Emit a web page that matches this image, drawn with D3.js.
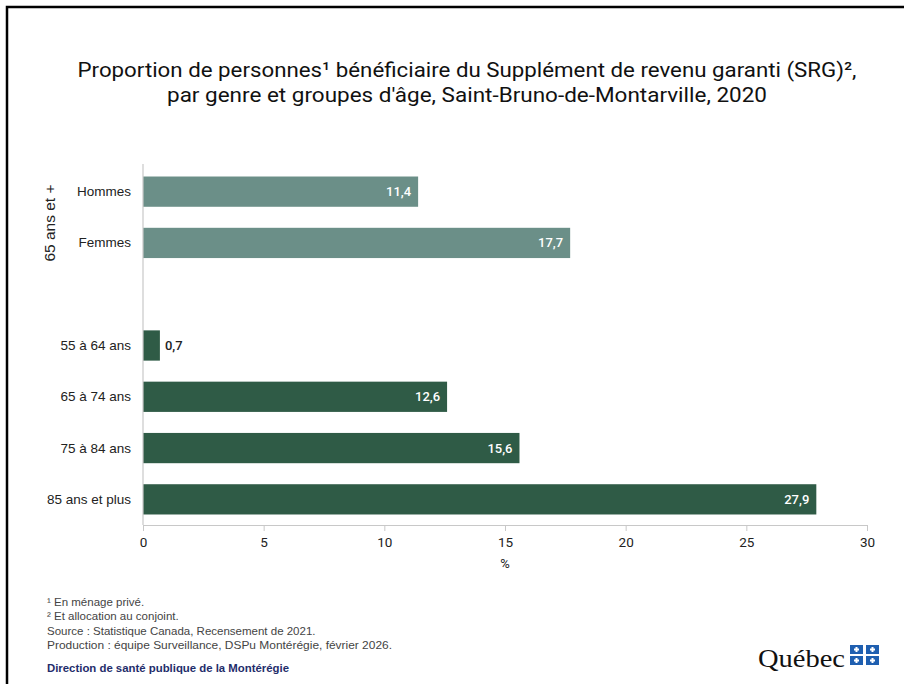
<!DOCTYPE html>
<html><head><meta charset="utf-8">
<script src="https://cdn.jsdelivr.net/npm/d3@7"></script>
<style>body{margin:0;background:#fff}svg{display:block}</style>
</head><body>
<script>
const categories = ["Hommes","Femmes","","55 à 64 ans","65 à 74 ans","75 à 84 ans","85 ans et plus"];
const values = [11.4, 17.7, null, 0.7, 12.6, 15.6, 27.9];
const groupIdx = [0, 0, null, 1, 1, 1, 1];
const xTicks = [0,5,10,15,20,25,30];
const titleLines = ["Proportion de personnes¹ bénéficiaire du Supplément de revenu garanti (SRG)²,",
                    "par genre et groupes d'âge, Saint-Bruno-de-Montarville, 2020"];
const notes = ["¹ En ménage privé.","² Et allocation au conjoint.","Source : Statistique Canada, Recensement de 2021.","Production : équipe Surveillance, DSPu Montérégie, février 2026."];

const W=904,H=684;
const svg=d3.select("body").append("svg").attr("width",W).attr("height",H);
// frame
svg.append("path").attr("d","M7,684 V7 H904").attr("fill","none").attr("stroke","#000").attr("stroke-width",2.5);

const x=d3.scaleLinear().domain([0,30]).range([143,867]);
const y=d3.scaleBand().domain(d3.range(categories.length)).range([166,525]).paddingInner(0.41).paddingOuter(0.205);
const colors=["#6b8f88","#2f5b46"];

// title
svg.append("g").selectAll("text").data(titleLines).join("text")
 .attr("x",467).attr("y",(d,i)=>77+i*25).attr("text-anchor","middle")
 .attr("font-family","Roboto, sans-serif").attr("font-size",20.5).attr("fill","#111")
 .attr("textLength",(d,i)=>i===0?779:600).attr("lengthAdjust","spacingAndGlyphs")
 .text(d=>d);

// bars
const data=categories.map((c,i)=>({c,v:values[i],g:groupIdx[i],i})).filter(d=>d.v!==null);
svg.append("g").selectAll("rect").data(data).join("rect")
 .attr("x",x(0)).attr("y",d=>y(d.i)).attr("width",d=>x(d.v)-x(0)).attr("height",y.bandwidth())
 .attr("fill",d=>colors[d.g]);

// value labels
const fmt=v=>d3.format(".1f")(v).replace(".",",");
svg.append("g").selectAll("text").data(data).join("text")
 .attr("x",d=>x(d.v)-x(0)>40?x(d.v)-7:x(d.v)+5)
 .attr("y",d=>y(d.i)+y.bandwidth()/2+4.5)
 .attr("text-anchor",d=>x(d.v)-x(0)>40?"end":"start")
 .attr("font-family","Roboto, sans-serif").attr("font-weight",500).attr("font-size",13)
 .attr("fill",d=>x(d.v)-x(0)>40?"#fff":"#222")
 .text(d=>fmt(d.v));

// y axis
svg.append("line").attr("x1",143).attr("x2",143).attr("y1",164).attr("y2",525).attr("stroke","#c8c8c8").attr("stroke-width",1.2);
svg.append("g").selectAll("text").data(categories.map((c,i)=>({c,i})).filter(d=>d.c)).join("text")
 .attr("x",131).attr("y",d=>y(d.i)+y.bandwidth()/2+4.5).attr("text-anchor","end")
 .attr("font-family","Liberation Sans, Arial, sans-serif").attr("font-size",13.5).attr("fill","#222")
 .text(d=>d.c);
svg.append("text").attr("transform",`translate(55,223) rotate(-90)`)
 .attr("text-anchor","middle").attr("font-family","Liberation Sans, Arial, sans-serif").attr("font-size",14).attr("fill","#222")
 .attr("textLength",77).attr("lengthAdjust","spacingAndGlyphs")
 .text("65 ans et +");

// x axis
const xa=svg.append("g").attr("transform","translate(0,525)")
 .call(d3.axisBottom(x).tickValues(xTicks).tickSize(6).tickPadding(6).tickFormat(d3.format("d")));
xa.select(".domain").attr("stroke","#c8c8c8").attr("stroke-width",1.2).attr("d","M143,0.5H867");
xa.selectAll(".tick line").attr("stroke","#c8c8c8");
xa.selectAll(".tick text").attr("font-family","Roboto, sans-serif").attr("font-size",13.5).attr("fill","#222");
svg.append("text").attr("x",505).attr("y",568).attr("text-anchor","middle")
 .attr("font-family","Roboto, sans-serif").attr("font-size",13).attr("fill","#222").text("%");

// notes
svg.append("g").selectAll("text").data(notes).join("text")
 .attr("x",47).attr("y",(d,i)=>606+i*14.3)
 .attr("font-family","Liberation Sans, Arial, sans-serif").attr("font-size",11.5).attr("fill","#444")
 .attr("textLength",(d,i)=>i===3?345:null).attr("lengthAdjust","spacingAndGlyphs")
 .text(d=>d);
svg.append("text").attr("x",47).attr("y",672).attr("font-family","Liberation Sans, Arial, sans-serif")
 .attr("font-size",10.5).attr("font-weight","bold").attr("fill","#1f2d6b")
 .attr("textLength",242).attr("lengthAdjust","spacingAndGlyphs")
 .text("Direction de santé publique de la Montérégie");

// Québec logo
svg.append("text").attr("x",758).attr("y",667).attr("font-family","Liberation Serif, serif").attr("font-size",25).attr("fill","#111")
 .attr("textLength",87).attr("lengthAdjust","spacingAndGlyphs").text("Québec");
const flag=svg.append("g");
[[850,645],[866,645],[850,656],[866,656]].forEach(([fx,fy])=>{
 flag.append("rect").attr("x",fx).attr("y",fy).attr("width",13).attr("height",9).attr("fill","#1f5fb0");
 flag.append("rect").attr("x",fx+5.5).attr("y",fy+2).attr("width",2).attr("height",5).attr("fill","#fff");
 flag.append("rect").attr("x",fx+4).attr("y",fy+3.5).attr("width",5).attr("height",2).attr("fill","#fff");
});
</script>
</body></html>
